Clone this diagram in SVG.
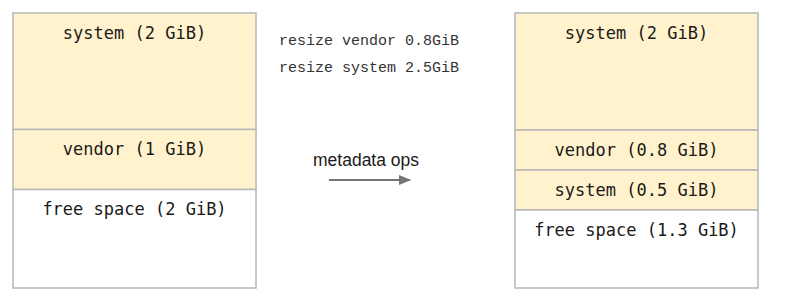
<svg xmlns="http://www.w3.org/2000/svg" width="787" height="305" viewBox="0 0 787 305">
  <style>
    .part { fill: #fff2cc; stroke: #b7b7b7; stroke-width: 1.5; }
    .free { fill: #ffffff; stroke: #b7b7b7; stroke-width: 1.5; }
    .lbl { font-family: "DejaVu Sans Mono", "Liberation Mono", monospace; font-size: 17px; fill: #1a1a1a; text-anchor: middle; }
    .cmd { font-family: "Liberation Mono", "Courier New", monospace; font-size: 15px; fill: #333333; }
    .note { font-family: "Liberation Sans", Arial, sans-serif; font-size: 17.5px; fill: #1a1a1a; }
  </style>
  <defs>
    <marker id="arrowhead" markerWidth="12" markerHeight="10" refX="11" refY="5" orient="auto" markerUnits="userSpaceOnUse">
      <path d="M0,0 L12,5 L0,10 Z" fill="#757575"/>
    </marker>
  </defs>
  <rect width="787" height="305" fill="#ffffff"/>

  <!-- Layout before the metadata operations -->
  <g id="before-system">
    <rect class="part" x="13" y="13" width="243" height="116.5"/>
    <text class="lbl" x="134.5" y="39">system (2 GiB)</text>
  </g>
  <g id="before-vendor">
    <rect class="part" x="13" y="129.5" width="243" height="60"/>
    <text class="lbl" x="134.5" y="155">vendor (1 GiB)</text>
  </g>
  <g id="before-free">
    <rect class="free" x="13" y="189.5" width="243" height="98.5"/>
    <text class="lbl" x="134.5" y="215">free space (2 GiB)</text>
  </g>

  <!-- Commands -->
  <g id="commands">
    <text class="cmd" x="279" y="45">resize vendor 0.8GiB</text>
    <text class="cmd" x="279" y="72">resize system 2.5GiB</text>
  </g>

  <!-- Layout after the metadata operations -->
  <g id="after-system">
    <rect class="part" x="515" y="13" width="243" height="117"/>
    <text class="lbl" x="636.5" y="39">system (2 GiB)</text>
  </g>
  <g id="after-vendor">
    <rect class="part" x="515" y="130" width="243" height="40"/>
    <text class="lbl" x="636.5" y="156">vendor (0.8 GiB)</text>
  </g>
  <g id="after-system-ext">
    <rect class="part" x="515" y="170" width="243" height="40"/>
    <text class="lbl" x="636.5" y="196">system (0.5 GiB)</text>
  </g>
  <g id="after-free">
    <rect class="free" x="515" y="210" width="243" height="78"/>
    <text class="lbl" x="636.5" y="236">free space (1.3 GiB)</text>
  </g>

  <!-- Transition arrow -->
  <g id="connectors">
    <text class="note" x="313" y="165.5">metadata ops</text>
    <line x1="329" y1="180" x2="410" y2="180" stroke="#757575" stroke-width="2" marker-end="url(#arrowhead)"/>
  </g>
</svg>
